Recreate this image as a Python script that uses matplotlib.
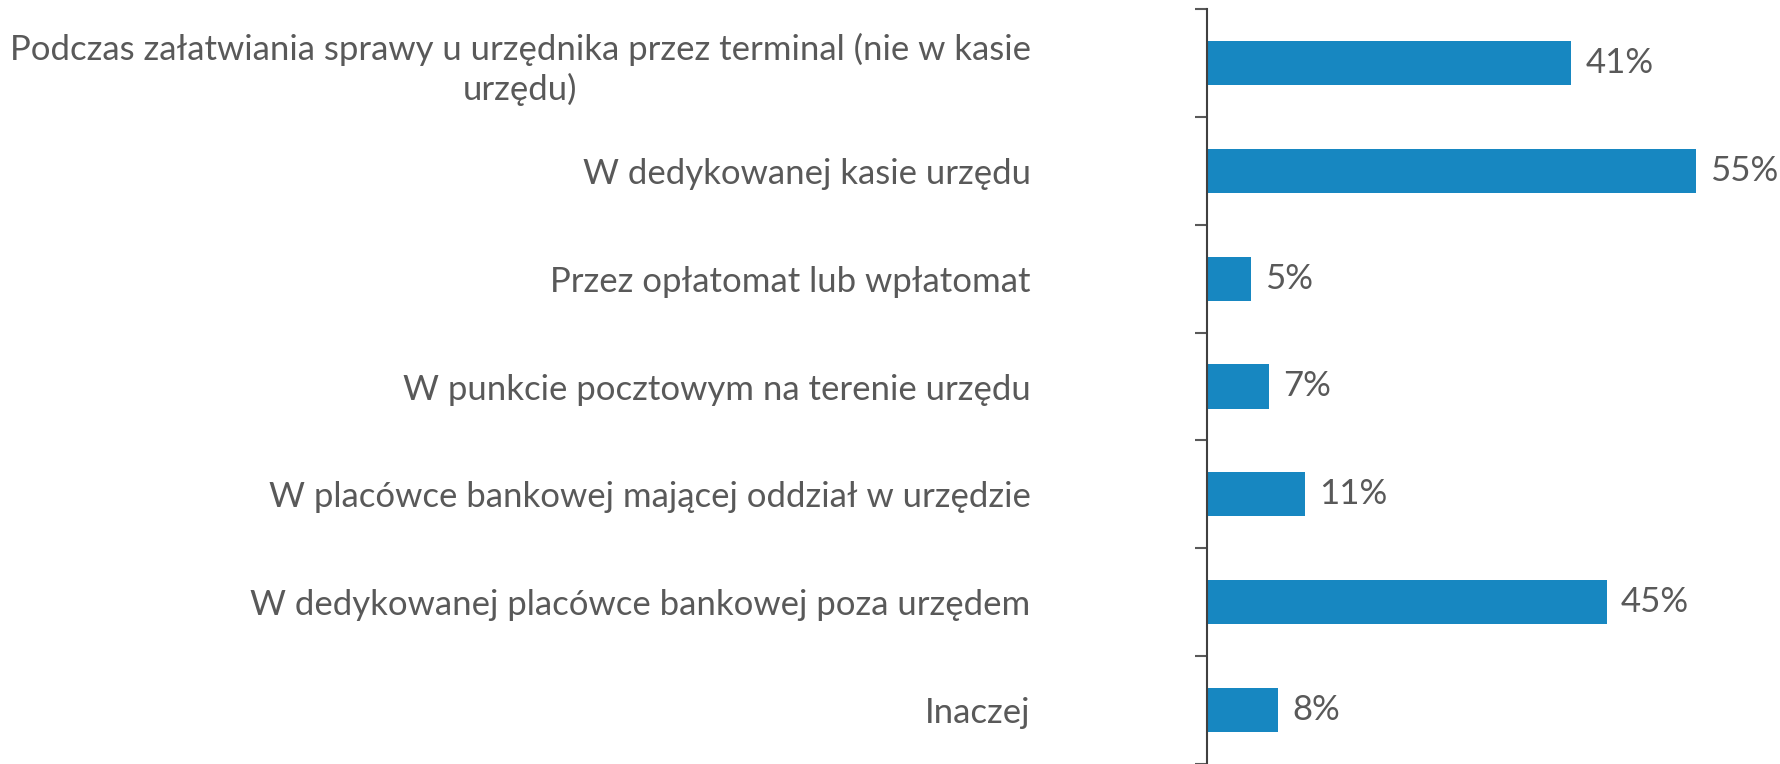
import matplotlib.pyplot as plt

# Categories (top to bottom) and percentages
categories = [
    "Podczas załatwiania sprawy u urzędnika przez terminal (nie w kasie\nurzędu)",
    "W dedykowanej kasie urzędu",
    "Przez opłatomat lub wpłatomat",
    "W punkcie pocztowym na terenie urzędu",
    "W placówce bankowej mającej oddział w urzędzie",
    "W dedykowanej placówce bankowej poza urzędem",
    "Inaczej",
]
values = [41, 55, 5, 7, 11, 45, 8]
value_labels = ["41%", "55%", "5%", "7%", "11%", "45%", "8%"]

plt.rcParams["font.family"] = ["Lato", "DejaVu Sans"]
text_color = "#595959"
bar_color = "#1787C1"

fig = plt.figure(figsize=(17.81, 7.64), dpi=100)
ax = fig.add_axes([1207 / 1781, 0, 1 - 1207 / 1781, 1 - 9 / 764])

pos = list(range(len(categories)))
ax.barh(pos, values, height=0.41, color=bar_color)
ax.set_ylim(len(categories) - 0.5, -0.5)
ax.set_xlim(0, 64.6)

for p, v, lab in zip(pos, values, value_labels):
    ax.annotate(lab, (v, p), xytext=(10, 0), textcoords="offset points",
                va="center", ha="left", fontsize=25, color=text_color)

ax.set_yticks(pos)
ax.set_yticklabels(categories, fontsize=25, color=text_color, multialignment="center",
                   linespacing=1.25)
ax.set_yticks([i - 0.5 for i in range(len(categories) + 1)], minor=True)
ax.tick_params(axis="y", which="major", length=0, pad=127)
ax.tick_params(axis="y", which="minor", length=9, width=1.5, color="#595959")
ax.set_xticks([])

for s in ["top", "right", "bottom"]:
    ax.spines[s].set_visible(False)
ax.spines["left"].set_color("#404040")
ax.spines["left"].set_linewidth(1.5)

fig.savefig("out.png", dpi=100)
